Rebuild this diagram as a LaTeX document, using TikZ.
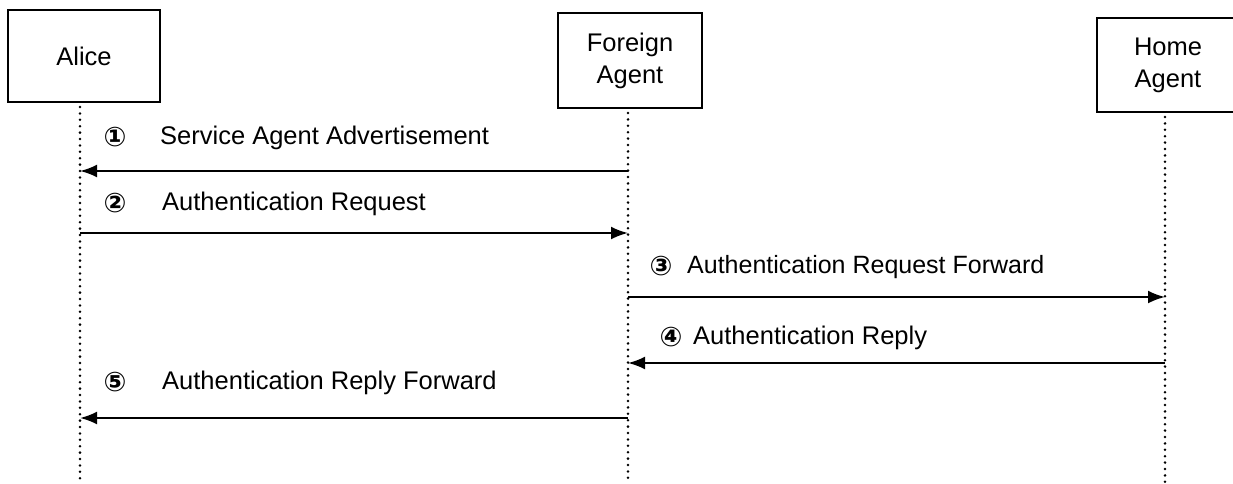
\documentclass[tikz,border=0pt]{standalone}
\usepackage{fontspec}
\setmainfont{Liberation Sans}
\newfontfamily\symfont{DejaVu Sans}
\usetikzlibrary{arrows.meta}
\begin{document}
\begin{tikzpicture}[x=1pt,y=-1pt,
  actor/.style={draw,line width=2.2pt,inner sep=0pt,align=center,
    font=\fontsize{25.5}{32}\selectfont},
  life/.style={line width=2.8pt,dash pattern=on 0pt off 6.4pt,line cap=round},
  msg/.style={line width=2.2pt,-{Latex[length=17pt,width=13pt]}},
  lbl/.style={anchor=west,font=\fontsize{25.5}{30}\selectfont,inner sep=0pt},
  num/.style={font=\symfont\bfseries\fontsize{27}{27}\selectfont,inner sep=0pt}]
\useasboundingbox (0,0) rectangle (1233,483);
% actors
\node[actor,minimum width=152pt,minimum height=92pt] (alice) at (84,56) {Alice};
\node[actor,minimum width=144pt,minimum height=95pt] (fa) at (630,60.5) {Foreign\\Agent};
\node[actor,minimum width=142pt,minimum height=94pt] (ha) at (1168,65) {Home\\Agent};
% lifelines
\coordinate (at) at (80,107);  \coordinate (ab) at (80,483);
\coordinate (ft) at (628,113); \coordinate (fb) at (628,483);
\coordinate (ht) at (1165,117);\coordinate (hb) at (1165,483);
\draw[life] (at) -- (ab);
\draw[life] (ft) -- (fb);
\draw[life] (ht) -- (hb);
% message end points
\coordinate (a1) at (80,171);  \coordinate (f1) at (628,171);
\coordinate (a2) at (80,233);  \coordinate (f2) at (628,233);
\coordinate (f3) at (628,297); \coordinate (h3) at (1165,297);
\coordinate (f4) at (628,363); \coordinate (h4) at (1165,363);
\coordinate (a5) at (80,418);  \coordinate (f5) at (628,418);
% messages
\draw[msg] (f1) -- (a1);
\draw[msg] (a2) -- (f2);
\draw[msg] (f3) -- (h3);
\draw[msg] (h4) -- (f4);
\draw[msg] (f5) -- (a5);
% labels
\node[num] (n1) at (115,137) {①};
\node[lbl] (t1) at (160,138) {Service Agent Advertisement};
\node[num] (n2) at (115,203) {②};
\node[lbl] (t2) at (162,204) {Authentication Request};
\node[num] (n3) at (661,266) {③};
\node[lbl,font=\fontsize{25}{30}\selectfont] (t3) at (687,267) {Authentication Request Forward};
\node[num] (n4) at (671,337) {④};
\node[lbl] (t4) at (693,338) {Authentication Reply};
\node[num] (n5) at (115,382) {⑤};
\node[lbl] (t5) at (162,383) {Authentication Reply Forward};
\end{tikzpicture}
\end{document}
